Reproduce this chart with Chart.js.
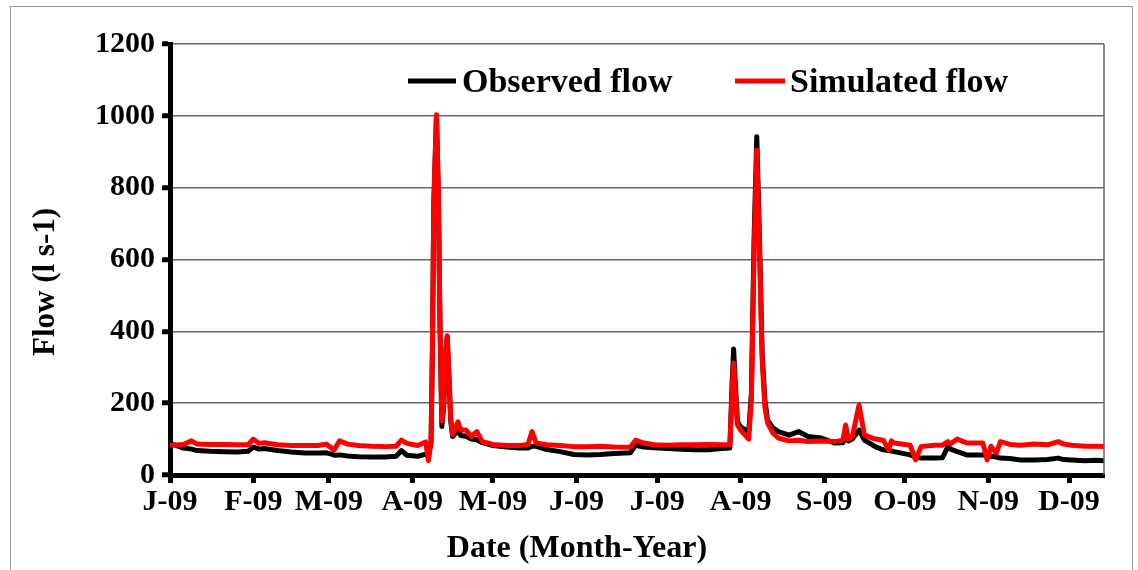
<!DOCTYPE html>
<html lang="en">

<head>
    <meta charset="UTF-8">
    <script src="https://cdn.jsdelivr.net/npm/chart.js"></script>
    <title>Observed vs simulated flow 2009</title>
    <style>
        body { margin: 0; background: #fff; }
        .box { width: 1138px; height: 570px; }
    </style>
</head>

<body>
    <div class="box">
        <canvas id="flowChart"></canvas>
    </div>
</body>

</html>
<script>
    // day of year 2009 (0 = 1 Jan)
    const days = [0, 3, 5, 8, 10, 15, 20, 25, 29, 31, 33, 35, 40, 45, 50, 55, 58, 60, 61, 63, 66, 70, 75, 80, 84,
        86, 88, 92, 95, 96, 97, 97.5, 98, 99, 99.7, 100.3, 101, 101.7, 102.3, 103, 103.7, 104.3, 105, 107, 108, 110,
        112, 114, 116, 120, 125, 130, 133, 134.5, 136, 140, 145, 150, 155, 160, 165, 171, 173, 176, 180, 185, 190,
        195, 200, 205, 208, 208.8, 209.4, 210, 210.8, 212, 215, 216, 217, 218, 219, 220, 221, 222, 224, 226, 230,
        233.5, 237, 242, 247, 250, 251, 252, 253.5, 256, 258, 262, 265, 267, 268, 269, 275, 277, 279, 284, 287,
        289, 290, 292.5, 296, 302, 303.6, 305, 307, 308.5, 312, 316, 321, 326, 330, 332, 335, 340, 344, 347];

    // observed flow (l s-1)
    const observed = [88, 80, 75, 72, 68, 66, 65, 64, 66, 78, 72, 74, 68, 64, 61, 61, 62, 58, 55, 56, 53, 51, 50, 50, 52,
        68, 55, 52, 58, 50, 90, 350, 750, 1000, 780, 420, 135, 190, 330, 385, 260, 150, 107, 125, 110, 108,
        100, 98, 90, 82, 78, 75, 75, 80, 80, 71, 65, 57, 56, 57, 60, 62, 83, 78, 76, 74, 72,
        70, 70, 74, 75, 250, 351, 260, 150, 134, 120, 230, 660, 942, 660, 340, 210, 153, 131, 121, 111,
        121, 107, 103, 89, 90, 111, 95, 100, 125, 97, 79, 70, 68, 67, 65, 56, 50, 47, 47, 48,
        79, 72, 65, 56, 56, 55, 52, 50, 47, 46, 42, 42, 43, 47, 43, 42, 40, 41, 40];

    // simulated flow (l s-1)
    const simulated = [83, 84, 85, 95, 86, 85, 85, 84, 84, 100, 88, 90, 84, 82, 82, 82, 86, 75, 70, 95, 86, 82, 80, 79, 80,
        97, 88, 82, 92, 40, 100, 360, 760, 1003, 790, 430, 150, 200, 335, 388, 265, 160, 113, 148, 125, 125,
        107, 121, 93, 85, 82, 82, 85, 121, 89, 84, 82, 79, 79, 80, 78, 77, 97, 89, 84, 83, 84,
        84, 85, 84, 84, 225, 312, 240, 140, 125, 100, 210, 620, 905, 630, 320, 190, 145, 117, 103, 95,
        97, 93, 95, 93, 97, 139, 100, 107, 195, 111, 100, 97, 70, 95, 89, 83, 42, 79, 83, 83,
        93, 87, 100, 89, 89, 42, 80, 61, 93, 85, 83, 86, 84, 93, 86, 83, 80, 80, 79];

    const monthStarts = [0, 31, 59, 90, 120, 151, 181, 212, 243, 273, 304, 334];
    const monthLabels = ['J-09', 'F-09', 'M-09', 'A-09', 'M-09', 'J-09', 'J-09', 'A-09', 'S-09', 'O-09', 'N-09', 'D-09'];
    const yTicks = [0, 200, 400, 600, 800, 1000, 1200];

    const serif = '"Liberation Serif", "Times New Roman", serif';

    // frame, right border, axis titles and legend
    const decor = {
        id: 'decor',
        afterDraw(chart) {
            const ctx = chart.ctx;
            const a = chart.chartArea;
            ctx.save();
            ctx.strokeStyle = '#666';
            ctx.lineWidth = 1.5;
            ctx.beginPath();
            ctx.moveTo(a.right, a.top);
            ctx.lineTo(a.right, a.bottom);
            ctx.stroke();

            ctx.strokeStyle = '#9a9a9a';
            ctx.lineWidth = 1;
            ctx.strokeRect(10.5, 6.5, 1122, 600);

            ctx.fillStyle = '#000';
            ctx.textBaseline = 'middle';
            ctx.textAlign = 'center';
            ctx.font = 'bold 32px ' + serif;
            ctx.fillText('Date (Month-Year)', 577, 549);

            ctx.save();
            ctx.translate(46, 282);
            ctx.rotate(-Math.PI / 2);
            ctx.font = 'bold 31px ' + serif;
            ctx.fillText('Flow (l s-1)', 0, 0);
            ctx.restore();

            // legend
            ctx.font = 'bold 34px ' + serif;
            ctx.textAlign = 'left';
            ctx.lineWidth = 5;
            const items = [
                { ds: chart.data.datasets[0], x0: 408, x1: 456, tx: 462 },
                { ds: chart.data.datasets[1], x0: 735, x1: 785, tx: 790 }
            ];
            items.forEach(function (it) {
                ctx.strokeStyle = it.ds.borderColor;
                ctx.beginPath();
                ctx.moveTo(it.x0, 81);
                ctx.lineTo(it.x1, 81);
                ctx.stroke();
                ctx.fillText(it.ds.label, it.tx, 83);
            });
            ctx.restore();
        }
    };

    const toPoints = (vals) => days.map((d, i) => ({ x: d, y: vals[i] }));

    new Chart(document.getElementById('flowChart'), {
        type: 'line',
        data: {
            datasets: [{
                label: 'Observed flow',
                data: toPoints(observed),
                borderColor: '#000000',
                borderWidth: 5,
                pointRadius: 0,
                tension: 0,
                borderJoinStyle: 'round',
                order: 1
            },
            {
                label: 'Simulated flow',
                data: toPoints(simulated),
                borderColor: '#ff0000',
                borderWidth: 5,
                pointRadius: 0,
                tension: 0,
                borderJoinStyle: 'round',
                order: 0
            }]
        },
        options: {
            responsive: true,
            maintainAspectRatio: false,
            animation: false,
            layout: { padding: { left: 0, top: 44, right: 34, bottom: 0 } },
            plugins: {
                legend: { display: false },
                tooltip: { enabled: false }
            },
            scales: {
                x: {
                    type: 'linear',
                    min: 0,
                    max: 347,
                    afterBuildTicks: (s) => { s.ticks = monthStarts.map(v => ({ value: v })); },
                    afterFit: (s) => { s.height = 95; },
                    border: { color: '#000', width: 5 },
                    grid: { drawOnChartArea: false, drawTicks: true, tickLength: 8, tickWidth: 5, tickColor: '#000' },
                    ticks: {
                        autoSkip: false,
                        maxRotation: 0,
                        padding: 1,
                        color: '#000',
                        font: { family: serif, size: 30, weight: 'bold' },
                        callback: (v, i) => monthLabels[i]
                    }
                },
                y: {
                    min: 0,
                    max: 1200,
                    afterBuildTicks: (s) => { s.ticks = yTicks.map(v => ({ value: v })); },
                    afterFit: (s) => { s.width = 170; },
                    border: { color: '#000', width: 5 },
                    grid: { color: '#666', lineWidth: 1.5, tickLength: 8, tickWidth: 5, tickColor: '#000' },
                    ticks: {
                        padding: 7,
                        color: '#000',
                        font: { family: serif, size: 30, weight: 'bold' },
                        callback: (v) => String(v)
                    }
                }
            }
        },
        plugins: [decor]
    });
</script>
